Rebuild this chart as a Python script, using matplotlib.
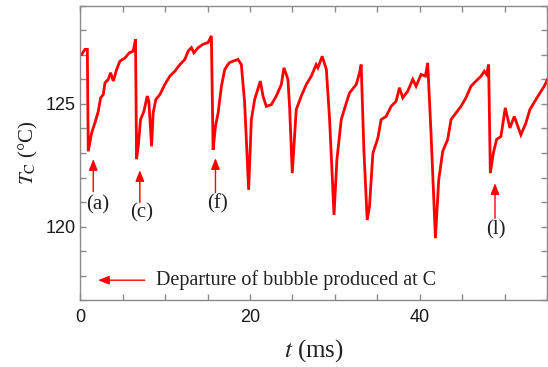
import numpy as np
import matplotlib
matplotlib.use("Agg")
import matplotlib.pyplot as plt
from matplotlib.ticker import MultipleLocator, FixedLocator

# traced temperature record T_C (degC) vs t (ms)
t_ms = [0.0, 0.16, 0.55, 0.83, 0.94, 1.34, 1.73, 2.12, 2.40, 2.71, 2.91, 3.30, 3.57,
        3.89, 4.28, 4.67, 5.26, 5.77, 6.24, 6.51, 6.63, 6.83, 7.10, 7.50, 7.89,
        8.08, 8.40, 8.59, 8.90, 9.38, 9.96, 10.55, 11.14, 11.73, 12.32, 12.71,
        13.10, 13.38, 13.89, 14.48, 15.06, 15.45, 15.65, 15.93, 16.24, 16.63,
        17.02, 17.53, 18.00, 18.59, 18.98, 19.37, 19.84, 20.16, 20.55, 21.22,
        21.53, 21.92, 22.51, 23.10, 23.69, 24.00, 24.47, 24.67, 24.98, 25.45,
        26.04, 26.63, 27.22, 27.80, 28.00, 28.51, 29.00, 29.38, 29.90, 30.24,
        30.75, 31.35, 31.73, 32.52, 32.91, 33.10, 33.42, 33.81, 34.08, 34.48,
        35.06, 35.45, 36.04, 36.63, 37.22, 37.61, 38.00, 38.59, 39.18, 39.57,
        40.16, 40.67, 40.94, 41.33, 41.85, 42.24, 42.71, 43.29, 43.69, 44.27,
        44.86, 45.45, 46.04, 46.63, 47.22, 47.61, 47.88, 48.12, 48.32, 48.67,
        49.06, 49.57, 50.08, 50.63, 51.14, 51.92, 52.51, 52.98, 53.69, 54.67,
        55.06]
temp_c = [127.0, 127.01, 127.22, 127.22, 123.07, 123.82, 124.23, 124.70, 125.25,
          125.38, 125.86, 126.00, 126.27, 125.93, 126.40, 126.74, 126.87, 127.08,
          127.15, 127.63, 122.75, 123.27, 124.36, 124.70, 125.32, 125.11, 123.27,
          124.63, 125.18, 125.38, 125.79, 126.13, 126.33, 126.60, 126.81, 127.15,
          127.29, 127.08, 127.29, 127.43, 127.50, 127.77, 123.13, 124.09, 124.63,
          125.72, 126.40, 126.67, 126.74, 126.81, 126.60, 125.04, 121.50, 124.36,
          125.18, 125.93, 125.32, 124.90, 124.97, 125.32, 125.79, 126.47, 126.00,
          124.84, 122.18, 124.77, 125.32, 125.79, 126.13, 126.60, 126.47, 126.94,
          126.40, 124.36, 120.48, 122.72, 124.36, 125.04, 125.45, 125.79, 126.27,
          126.60, 123.13, 120.27, 120.82, 122.99, 123.60, 124.36, 124.49, 124.90,
          125.11, 125.66, 125.25, 125.52, 126.00, 125.72, 126.20, 126.13, 126.67,
          123.82, 119.53, 121.91, 123.07, 123.55, 124.36, 124.63, 124.90, 125.25,
          125.72, 125.93, 126.13, 126.33, 126.20, 126.60, 122.18, 122.99, 123.55,
          123.68, 124.84, 124.02, 124.49, 123.74, 124.22, 124.77, 125.18, 125.72,
          126.00]

# event markers: label, arrow x, arrow tip T, arrow tail T, label x, label T
event_labels = ["(a)", "(c)", "(f)", "(l)"]
event_t = [1.53, 7.02, 15.93, 48.87]
event_tip = [122.75, 122.30, 122.79, 121.77]
event_tail = [121.43, 120.98, 121.39, 120.34]
label_t = [2.08, 7.22, 16.16, 48.99]
label_temp = [120.89, 120.57, 120.93, 119.89]

plt.rcParams["mathtext.fontset"] = "stix"
serif = "Liberation Serif"
sans = "Liberation Sans"
red = "#ff0000"
gray = "#8a8a8a"
head = "-|>,head_length=0.55,head_width=0.22"

fig = plt.figure(figsize=(5.48, 3.67), dpi=100)
ax = fig.add_axes([0.1465, 0.1817, 0.8517, 0.8028])

ax.plot(t_ms, temp_c, color=red, lw=2.0, solid_joinstyle="miter")

for lab, x, tip, tail, lx, ly in zip(event_labels, event_t, event_tip, event_tail,
                                     label_t, label_temp):
    ax.annotate("", xy=(x, tip), xytext=(x, tail),
                arrowprops=dict(arrowstyle=head, color=red, lw=1.0,
                                mutation_scale=12, shrinkA=0, shrinkB=0))
    ax.text(lx, ly, lab, family=serif, fontsize=15, color="#222222",
            ha="center", va="center")

# legend-like note
ax.annotate("", xy=(2.1, 117.82), xytext=(7.6, 117.82),
            arrowprops=dict(arrowstyle=head, color=red, lw=1.0,
                            mutation_scale=12, shrinkA=0, shrinkB=0))
ax.text(8.9, 117.82, "Departure of bubble produced at C", family=serif,
        fontsize=14.5, color="#222222", ha="left", va="center")

ax.set_xlim(0, 55)
ax.set_ylim(117, 129)
ax.xaxis.set_major_locator(FixedLocator([0, 20, 40]))
ax.xaxis.set_minor_locator(MultipleLocator(5))
ax.yaxis.set_major_locator(FixedLocator([120, 125]))
ax.yaxis.set_minor_locator(MultipleLocator(1))

ax.tick_params(which="both", direction="in", top=True, right=True,
               color=gray, length=4, width=1.0)
ax.tick_params(axis="x", which="major", pad=6)
ax.tick_params(axis="y", which="major", pad=3)
for lbl in ax.get_xticklabels() + ax.get_yticklabels():
    lbl.set_family(sans)
    lbl.set_fontsize(13)
    lbl.set_color("#1a1a1a")
for s in ax.spines.values():
    s.set_color(gray)
    s.set_linewidth(1.0)

ax.set_xlabel(r"$t$ (ms)", family=serif, fontsize=18, color="#222222", labelpad=8)
ax.set_ylabel(r"$T_\mathrm{C}$ (°C)", family=serif, fontsize=15, color="#222222",
              labelpad=4)

fig.savefig("out.png", dpi=100)
